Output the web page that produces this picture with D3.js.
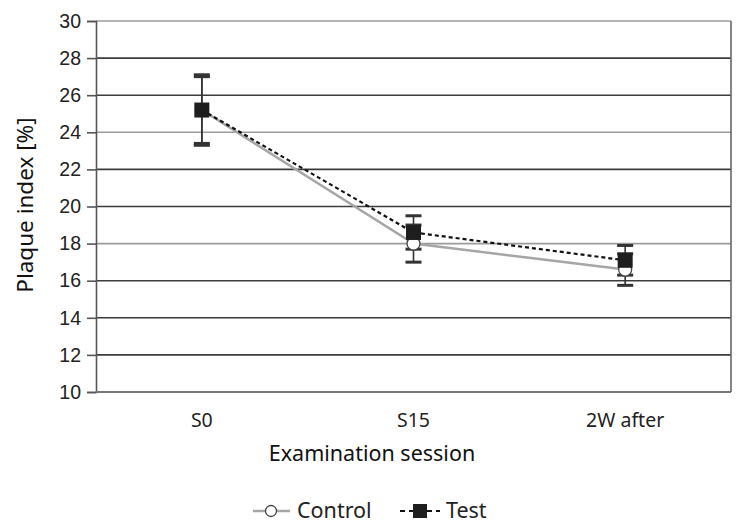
<!DOCTYPE html>
<html><head><meta charset="utf-8">
<script src="https://cdn.jsdelivr.net/npm/d3@7"></script>
<style>body{margin:0;background:#fff;} svg{display:block;font-family:"Noto Sans",sans-serif;}</style>
</head><body>
<svg id="c" width="744" height="528"></svg>
<script>
const categories = ["S0", "S15", "2W after"];
const controlValues = [25.2, 18.0, 16.6];
const controlErrors = [1.8, 1.0, 0.85];
const testValues = [25.2, 18.6, 17.1];
const testErrors = [1.9, 0.9, 0.8];
const yTicks = [10, 12, 14, 16, 18, 20, 22, 24, 26, 28, 30];

const svg = d3.select("#c");
const m = {l: 96, r: 731, t: 21, b: 392};
const x = d3.scaleBand().domain(categories).range([m.l, m.r]);
const y = d3.scaleLinear().domain([10, 30]).range([m.b, m.t]);
const cx = d => x(d) + x.bandwidth() / 2;

// gridlines
const lightLines = new Set([30, 24, 18]);
svg.append("g").selectAll("line").data(yTicks.filter(t => t > 10)).join("line")
  .attr("x1", m.l).attr("x2", m.r).attr("y1", d => y(d)).attr("y2", d => y(d))
  .attr("stroke", d => lightLines.has(d) ? "#9c9c9c" : "#3c3c3c").attr("stroke-width", 1.6);

// y axis
const ya = svg.append("g").attr("transform", `translate(${m.l},0)`)
  .call(d3.axisLeft(y).tickValues(yTicks).tickSize(9).tickPadding(6));
ya.select(".domain").attr("stroke", "#555").attr("stroke-width", 1.6);
ya.selectAll(".tick line").attr("stroke", "#555").attr("stroke-width", 1.6);
ya.selectAll("text").attr("font-size", 19.5).attr("fill", "#222");

// x axis line & right border
svg.append("line").attr("x1", m.l).attr("x2", m.r).attr("y1", m.b).attr("y2", m.b)
  .attr("stroke", "#777").attr("stroke-width", 2);
svg.append("line").attr("x1", m.r).attr("x2", m.r).attr("y1", m.t).attr("y2", m.b)
  .attr("stroke", "#666").attr("stroke-width", 1.6);
svg.append("g").selectAll("text").data(categories).join("text")
  .attr("x", d => cx(d)).attr("y", 427).attr("text-anchor", "middle")
  .attr("font-size", 19.5).attr("fill", "#222").text(d => d);

// titles
svg.append("text").attr("x", 372).attr("y", 461).attr("text-anchor", "middle")
  .attr("font-size", 21.5).attr("fill", "#111").text("Examination session");
svg.append("text").attr("transform", "translate(33,205) rotate(-90)").attr("text-anchor", "middle")
  .attr("font-size", 22.5).attr("fill", "#111").text("Plaque index [%]");

// error bars
function errBars(vals, errs) {
  const g = svg.append("g").attr("stroke", "#333").attr("stroke-width", 1.6);
  categories.forEach((c, i) => {
    const top = y(vals[i] + errs[i]), bot = y(vals[i] - errs[i]);
    g.append("line").attr("x1", cx(c)).attr("x2", cx(c)).attr("y1", top).attr("y2", bot);
    g.append("line").attr("x1", cx(c) - 8).attr("x2", cx(c) + 8).attr("y1", top).attr("y2", top).attr("stroke-width", 3);
    g.append("line").attr("x1", cx(c) - 8).attr("x2", cx(c) + 8).attr("y1", bot).attr("y2", bot).attr("stroke-width", 3);
  });
}
errBars(controlValues, controlErrors);
errBars(testValues, testErrors);

const line = d3.line().x((d, i) => cx(categories[i])).y(d => y(d));
svg.append("path").datum(controlValues).attr("d", line).attr("fill", "none")
  .attr("stroke", "#a6a6a6").attr("stroke-width", 2.5);
svg.append("g").selectAll("circle").data(controlValues).join("circle")
  .attr("cx", (d, i) => cx(categories[i])).attr("cy", d => y(d)).attr("r", 6.5)
  .attr("fill", "#fff").attr("stroke", "#444").attr("stroke-width", 1.3);

svg.append("path").datum(testValues).attr("d", line).attr("fill", "none")
  .attr("stroke", "#111").attr("stroke-width", 2.2).attr("stroke-dasharray", "4,3");
svg.append("g").selectAll("rect").data(testValues).join("rect")
  .attr("x", (d, i) => cx(categories[i]) - 7.5).attr("y", d => y(d) - 7.5)
  .attr("width", 15).attr("height", 15).attr("fill", "#1e1e1e");

// legend
const lg = svg.append("g");
lg.append("line").attr("x1", 253).attr("x2", 290).attr("y1", 511).attr("y2", 511)
  .attr("stroke", "#a6a6a6").attr("stroke-width", 2.5);
lg.append("circle").attr("cx", 271).attr("cy", 511).attr("r", 5.5).attr("fill", "#fff").attr("stroke", "#444").attr("stroke-width", 1.3);
lg.append("text").attr("x", 297).attr("y", 518).attr("font-size", 21.5).attr("fill", "#222").text("Control");
lg.append("line").attr("x1", 400).attr("x2", 440).attr("y1", 511).attr("y2", 511)
  .attr("stroke", "#111").attr("stroke-width", 2.2).attr("stroke-dasharray", "5,4");
lg.append("rect").attr("x", 413).attr("y", 504).attr("width", 14).attr("height", 14).attr("fill", "#1e1e1e");
lg.append("text").attr("x", 446).attr("y", 518).attr("font-size", 21.5).attr("fill", "#222").text("Test");
</script>
</body></html>
